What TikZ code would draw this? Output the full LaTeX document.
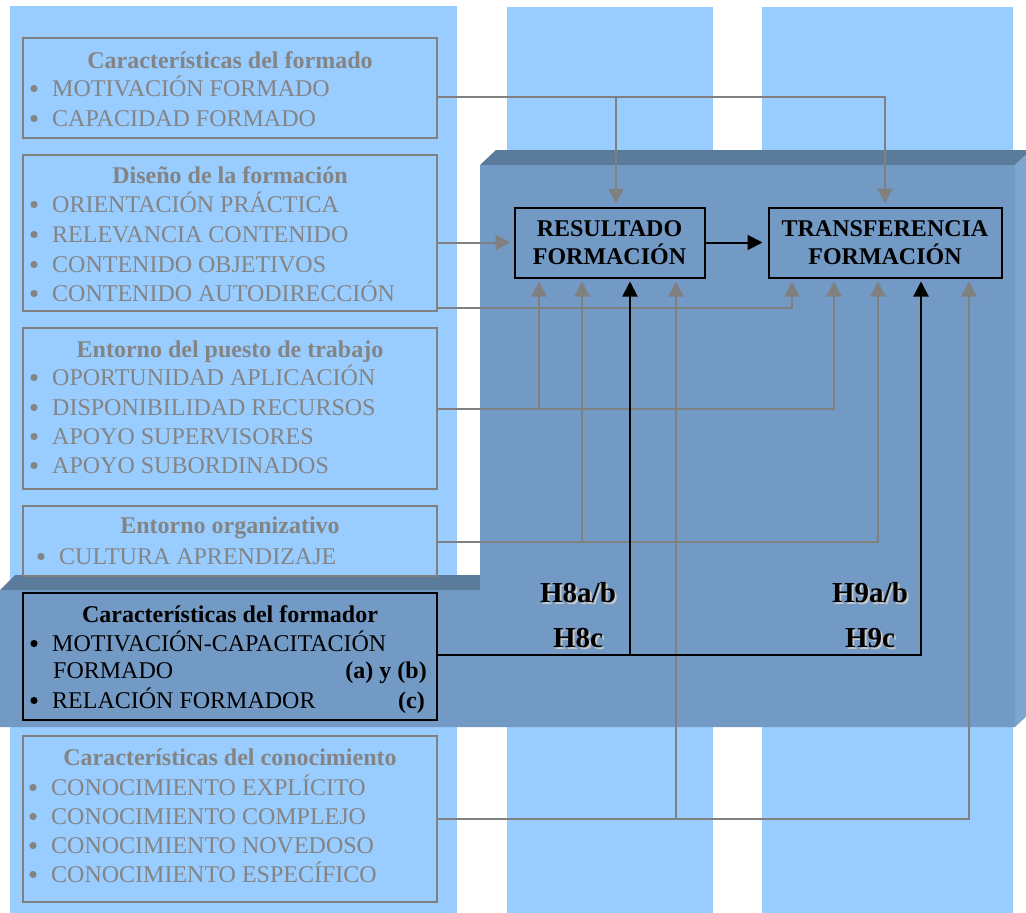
\documentclass[tikz,border=0pt]{standalone}
\usepackage{fontspec}
\setmainfont{Liberation Serif}
\usetikzlibrary{arrows.meta,calc}
\definecolor{lblue}{RGB}{153,204,255}
\definecolor{dfront}{RGB}{115,154,197}
\definecolor{dtop}{RGB}{91,123,155}
\definecolor{dside}{RGB}{126,165,206}
\definecolor{gline}{RGB}{128,128,128}
\definecolor{gtext}{RGB}{132,132,132}
\definecolor{hshadow}{RGB}{200,200,200}
\newcommand\gitem[5]{%
  \node[itm,text=#4] (#1) at (#2,#3) {#5};
  \fill[#4] ($(#1.base west)+(-18,-7.5)$) circle (3.6pt);}
\begin{document}
\begin{tikzpicture}[x=1pt,y=-1pt,
  gl/.style={draw=gline,line width=2pt},
  garr/.style={gl,-{Triangle[length=15pt,width=15pt]},shorten >=3pt},
  bl/.style={draw=black,line width=2pt},
  barr/.style={bl,-{Triangle[length=15pt,width=15pt]},shorten >=3pt},
  gbox/.style={draw=gline,line width=2pt,minimum width=414pt,inner sep=0pt},
  kbox/.style={draw=black,line width=2pt,minimum width=414pt,inner sep=0pt},
  rbox/.style={draw=black,line width=2pt,inner sep=0pt,align=center,font=\bfseries\fontsize{24}{28}\selectfont},
  ttl/.style={inner sep=0pt,anchor=base,font=\bfseries\fontsize{24}{29}\selectfont},
  itm/.style={inner sep=0pt,anchor=base west,font=\fontsize{24}{29}\selectfont},
  hlab/.style={inner sep=0pt,anchor=base,font=\bfseries\fontsize{29}{34}\selectfont},
]
\useasboundingbox (0,0) rectangle (1026,913);
\clip (0,0) rectangle (1026,913);
\fill[white] (0,0) rectangle (1026,913);
% background columns
\fill[lblue] (10,6) rectangle (457,913);
\fill[lblue] (507,7) rectangle (713,913);
\fill[lblue] (762,7) rectangle (1013,913);
% 3D L-shaped panel
\fill[dtop] (480,165) -- (496,150) -- (1031,150) -- (1015,165) -- cycle;
\fill[dside] (1015,165) -- (1031,150) -- (1031,712) -- (1015,727) -- cycle;
\fill[dtop] (0,590) -- (15,575) -- (480,575) -- (480,590) -- cycle;
\fill[dfront] (480,165) -- (1015,165) -- (1015,727) -- (0,727) -- (0,590) -- (480,590) -- cycle;

% left boxes
\node[gbox,minimum height=100pt] (b1) at (230,88) {};
\node[gbox,minimum height=156pt] (b2) at (230,233) {};
\node[gbox,minimum height=161pt] (b3) at (230,408.5) {};
\node[gbox,minimum height=70pt] (b4) at (230,541) {};
\node[kbox,minimum height=127pt] (b5) at (230,656.5) {};
\node[gbox,minimum height=166pt] (b6) at (230,819) {};

% box 1
\node[ttl,text=gtext] (b1t) at (230,68) {Características del formado};
\gitem{b1a}{52}{96}{gtext}{MOTIVACIÓN FORMADO}
\gitem{b1b}{52}{126}{gtext}{CAPACIDAD FORMADO}
% box 2
\node[ttl,text=gtext] (b2t) at (230,183) {Diseño de la formación};
\gitem{b2a}{52}{212}{gtext}{ORIENTACIÓN PRÁCTICA}
\gitem{b2b}{52}{242}{gtext}{RELEVANCIA CONTENIDO}
\gitem{b2c}{52}{272}{gtext}{CONTENIDO OBJETIVOS}
\gitem{b2d}{52}{301}{gtext}{CONTENIDO AUTODIRECCIÓN}
% box 3
\node[ttl,text=gtext] (b3t) at (230,357) {Entorno del puesto de trabajo};
\gitem{b3a}{52}{385}{gtext}{OPORTUNIDAD APLICACIÓN}
\gitem{b3b}{52}{415}{gtext}{DISPONIBILIDAD RECURSOS}
\gitem{b3c}{52}{444}{gtext}{APOYO SUPERVISORES}
\gitem{b3d}{52}{473}{gtext}{APOYO SUBORDINADOS}
% box 4
\node[ttl,text=gtext] (b4t) at (230,533) {Entorno organizativo};
\gitem{b4a}{59}{564}{gtext}{CULTURA APRENDIZAJE}
% box 5
\node[ttl,text=black] (b5t) at (230,622) {Características del formador};
\gitem{b5a}{52}{651}{black}{MOTIVACIÓN-CAPACITACIÓN}
\node[itm] (b5b) at (53,678) {FORMADO};
\node[itm,anchor=base east,font=\bfseries\fontsize{24}{29}\selectfont] (b5ab) at (427,678) {(a) y (b)};
\gitem{b5c}{52}{708}{black}{RELACIÓN FORMADOR}
\node[itm,anchor=base east,font=\bfseries\fontsize{24}{29}\selectfont] (b5cc) at (425,708) {(c)};
% box 6
\node[ttl,text=gtext] (b6t) at (230,765) {Características del conocimiento};
\gitem{b6a}{51}{795}{gtext}{CONOCIMIENTO EXPLÍCITO}
\gitem{b6b}{51}{824}{gtext}{CONOCIMIENTO COMPLEJO}
\gitem{b6c}{51}{853}{gtext}{CONOCIMIENTO NOVEDOSO}
\gitem{b6d}{51}{882}{gtext}{CONOCIMIENTO ESPECÍFICO}

% outcome boxes
\node[rbox,minimum width=190pt,minimum height=70pt] (res) at (609.5,242.5) {RESULTADO\\FORMACIÓN};
\node[rbox,minimum width=233pt,minimum height=70pt] (tra) at (885,242.5) {TRANSFERENCIA\\FORMACIÓN};

% junction coordinates
\coordinate (j1) at (616,97);
\coordinate (j3) at (539,408);
\coordinate (j4) at (582,542);
\coordinate (j5) at (630,655);
\coordinate (j6) at (676,819);

% gray connectors
\draw[garr] (b1.east |- j1) -| (tra.north);
\draw[garr] (j1) -- (j1 |- res.north);
\draw[garr] (b2.east |- res.west) -- (res.west);
\draw[garr] (b2.east |- 0,308) -| (tra.south -| 792,0);
\draw[garr] (b3.east) -| (tra.south -| 834,0);
\draw[garr] (j3) -- (j3 |- res.south);
\draw[garr] (b4.east |- j4) -| (tra.south -| 878,0);
\draw[garr] (j4) -- (j4 |- res.south);
\draw[garr] (b6.east) -| (tra.south -| 969,0);
\draw[garr] (j6) -- (j6 |- res.south);
% black connectors
\draw[barr,shorten >=5pt] (res.east) -- (tra.west);
\draw[barr] (b5.east |- j5) -| (tra.south -| 921,0);
\draw[barr] (j5) -- (j5 |- res.south);

% hypothesis labels
\node[hlab,text=hshadow] (h8abs) at (580,604.5) {H8a/b};
\node[hlab] (h8ab) at (578,602.5) {H8a/b};
\node[hlab,text=hshadow] (h8cs) at (580,649.5) {H8c};
\node[hlab] (h8c) at (578,647.5) {H8c};
\node[hlab,text=hshadow] (h9abs) at (872,604.5) {H9a/b};
\node[hlab] (h9ab) at (870,602.5) {H9a/b};
\node[hlab,text=hshadow] (h9cs) at (872,649.5) {H9c};
\node[hlab] (h9c) at (870,647.5) {H9c};
\end{tikzpicture}
\end{document}
